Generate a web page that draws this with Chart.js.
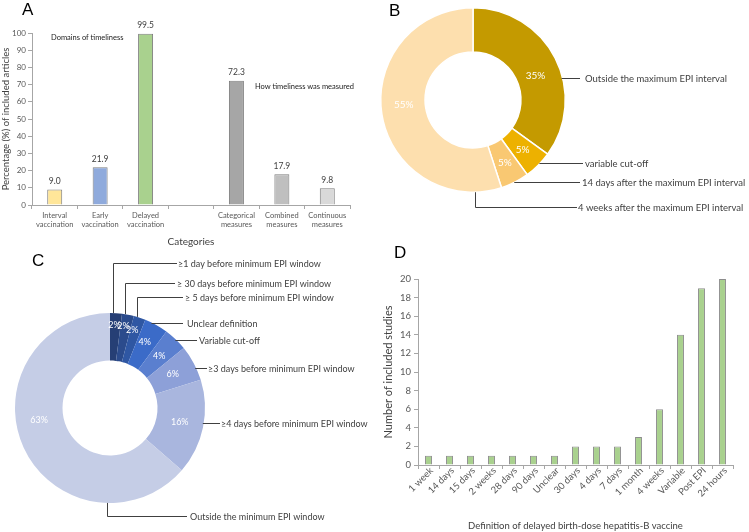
<!DOCTYPE html>
<html>
<head>
<meta charset="utf-8">
<script src="https://cdn.jsdelivr.net/npm/chart.js@4.4.0/dist/chart.umd.min.js"></script>
<style>
body { margin:0; background:#fff; width:749px; height:532px; position:relative; overflow:hidden; font-family: Lato, "Noto Sans", sans-serif; }
canvas { position:absolute; }
.letter { position:absolute; font-family: Arial, "Liberation Sans", sans-serif; font-size:17px; color:#000; }
.note { position:absolute; font-size:7.5px; color:#222; white-space:nowrap; }
</style>
</head>
<body>
<canvas id="chartA" width="375" height="250" style="left:0;top:0"></canvas>
<canvas id="chartB" width="374" height="250" style="left:375px;top:0"></canvas>
<canvas id="chartC" width="375" height="282" style="left:0;top:250px"></canvas>
<canvas id="chartD" width="374" height="282" style="left:375px;top:250px"></canvas>

<div class="letter" style="left:22px;top:0px">A</div>
<div class="letter" style="left:389px;top:1px">B</div>
<div class="letter" style="left:32px;top:251px">C</div>
<div class="letter" style="left:394px;top:243px">D</div>
<div class="note" style="left:51px;top:33px">Domains of timeliness</div>
<div class="note" style="left:255px;top:82px">How timeliness was measured</div>

<script>
// --- Panel A data ---
const categoriesA = [["Interval", "vaccination"], ["Early", "vaccination"], ["Delayed", "vaccination"], "", ["Categorical", "measures"], ["Combined", "measures"], ["Continuous", "measures"]];
const valuesA = [9.0, 21.9, 99.5, null, 72.3, 17.9, 9.8];
const colorsA = ['#FFE699', '#8FAADC', '#A9D18E', '#ffffff', '#A6A6A6', '#BFBFBF', '#D9D9D9'];

// --- Panel B data ---
const labelsB = ["Outside the maximum EPI interval", "variable cut-off", "14 days after the maximum EPI interval", "4 weeks after the maximum EPI interval"];
const valuesB = [35, 5, 5, 55];
const colorsB = ['#C49A00', '#EDB100', '#F9C872', '#FDDFAE'];

// --- Panel C data ---
const labelsC = ["\u22651 day before minimum EPI window", "\u2265 30 days before minimum EPI window", "\u2265 5 days before minimum EPI window", "Unclear definition", "Variable cut-off", "\u22653 days before minimum EPI window", "\u22654 days before minimum EPI window", "Outside the minimum EPI window"];
const valuesC = [2, 2, 2, 4, 4, 6, 16, 63];
const colorsC = ['#263F75', '#2B4B8C', '#2F57A3', '#3B6BC8', '#5A7FCF', '#8DA0D8', '#A9B6DE', '#C5CDE6'];

// --- Panel D data ---
const categoriesD = ["1 week", "14 days", "15 days", "2 weeks", "28 days", "90 days", "Unclear", "30 days", "4 days", "7 days", "1 month", "4 weeks", "Variable", "Post EPI", "24 hours"];
const valuesD = [1, 1, 1, 1, 1, 1, 1, 2, 2, 2, 3, 6, 14, 19, 20];

Chart.defaults.font.family = 'Lato, "Noto Sans", sans-serif';
Chart.defaults.color = '#595959';
Chart.defaults.animation = false;

const textGray = '#404040';
const axisGray = '#A6A6A6';

// value labels on top of bars (panel A)
const barLabels = {
    id: 'barLabels',
    afterDatasetsDraw(chart) {
        const ctx = chart.ctx;
        const meta = chart.getDatasetMeta(0);
        ctx.save();
        ctx.font = '8.5px Lato';
        ctx.fillStyle = textGray;
        ctx.textAlign = 'center';
        ctx.textBaseline = 'bottom';
        meta.data.forEach((bar, i) => {
            const v = valuesA[i];
            if (v == null) return;
            ctx.fillText(v.toFixed(1), bar.x, bar.y - 4);
        });
        ctx.restore();
    }
};

// percent labels + leader lines for the doughnuts
const leaders = {
    id: 'leaders',
    afterDatasetsDraw(chart, args, opts) {
        const ctx = chart.ctx;
        const meta = chart.getDatasetMeta(0);
        const first = meta.data[0];
        const cx = first.x, cy = first.y, r = first.outerRadius;
        const vals = chart.data.datasets[0].data;
        ctx.save();
        // percent inside slices
        ctx.font = opts.pctFont;
        ctx.fillStyle = '#ffffff';
        ctx.textAlign = 'center';
        ctx.textBaseline = 'middle';
        meta.data.forEach((arc, i) => {
            const p = arc.tooltipPosition();
            const off = (opts.pctShift && opts.pctShift[i]) || [0, 0];
            ctx.fillText(vals[i] + '%', p.x + off[0], p.y + off[1]);
        });
        // leader lines
        ctx.strokeStyle = textGray;
        ctx.lineWidth = 1;
        ctx.fillStyle = textGray;
        ctx.font = opts.font;
        ctx.textAlign = 'left';
        opts.items.forEach(it => {
            const y = Math.round(cy + it.dy) + 0.5;
            ctx.beginPath();
            if (it.elbow !== undefined) {
                const ex = Math.round(cx + it.elbow) + 0.5;
                const h = Math.sqrt(r * r - it.elbow * it.elbow);
                const sy = it.dy < 0 ? cy - h : cy + h;
                ctx.moveTo(ex, sy);
                ctx.lineTo(ex, y);
                ctx.lineTo(cx + it.lineEnd, y);
            } else {
                const sx = cx + Math.sqrt(r * r - it.dy * it.dy) - 1;
                ctx.moveTo(sx, y);
                ctx.lineTo(cx + it.lineEnd, y);
            }
            ctx.stroke();
            ctx.fillText(chart.data.labels[it.idx], cx + it.textX, y + 0.5);
        });
        ctx.restore();
    }
};

// ---- A: bar chart ----
new Chart(document.getElementById('chartA'), {
    type: 'bar',
    data: {
        labels: categoriesA,
        datasets: [{
            data: valuesA,
            backgroundColor: colorsA,
            borderColor: '#7F7F7F',
            borderWidth: 1,
            barPercentage: 0.33,
            categoryPercentage: 1
        }]
    },
    options: {
        responsive: false,
        layout: { padding: { top: 33, right: 25, left: 0, bottom: 0 } },
        plugins: { legend: { display: false }, tooltip: { enabled: false } },
        scales: {
            x: {
                afterFit(scale) { scale.height = 45; },
                grid: { drawOnChartArea: false, tickLength: 4, color: axisGray, offset: true },
                border: { color: axisGray },
                ticks: { font: { size: 7.5 }, padding: 2, maxRotation: 0, autoSkip: false },
                title: { display: true, text: 'Categories', font: { size: 10 }, color: textGray, padding: { top: 0, bottom: 2 } }
            },
            y: {
                min: 0, max: 100,
                afterFit(scale) { scale.width = 32; },
                grid: { drawOnChartArea: false, tickLength: 4, color: axisGray },
                border: { color: axisGray },
                ticks: { stepSize: 10, font: { size: 8 }, padding: 2 },
                title: { display: true, text: 'Percentage (%) of included articles', font: { size: 9.5 }, color: textGray, padding: { top: 0, bottom: 0 } }
            }
        }
    },
    plugins: [barLabels]
});

// ---- B: doughnut ----
new Chart(document.getElementById('chartB'), {
    type: 'doughnut',
    data: {
        labels: labelsB,
        datasets: [{ data: valuesB, backgroundColor: colorsB, borderColor: '#ffffff', borderWidth: 1.5 }]
    },
    options: {
        responsive: false,
        cutout: '52%',
        layout: { padding: { left: 5, right: 183, top: 7, bottom: 57 } },
        plugins: {
            legend: { display: false },
            tooltip: { enabled: false },
            leaders: {
                pctFont: '10px Lato',
                font: '9.5px Lato',
                pctShift: [[0, 8], [0, 0], [0, 0], [0, -6]],
                items: [
                    { idx: 0, dy: -22, lineEnd: 107, textX: 112 },
                    { idx: 1, dy: 63, lineEnd: 110, textX: 112 },
                    { idx: 2, dy: 82, lineEnd: 107, textX: 109 },
                    { idx: 3, elbow: 2, dy: 107, lineEnd: 104, textX: 105 }
                ]
            }
        }
    },
    plugins: [leaders]
});

// ---- C: doughnut ----
new Chart(document.getElementById('chartC'), {
    type: 'doughnut',
    data: {
        labels: labelsC,
        datasets: [{ data: valuesC, backgroundColor: colorsC, borderWidth: 0 }]
    },
    options: {
        responsive: false,
        cutout: '50%',
        layout: { padding: { left: 15, right: 170, top: 63, bottom: 29 } },
        plugins: {
            legend: { display: false },
            tooltip: { enabled: false },
            leaders: {
                pctFont: '9px Lato',
                font: '9px Lato',
                pctShift: [[0, -12], [0, -12], [0, -10], [0, -4], [0, 0], [0, 0], [0, 0], [-6, -18]],
                items: [
                    { idx: 0, elbow: 3, dy: -145, lineEnd: 67, textX: 68 },
                    { idx: 1, elbow: 15, dy: -125, lineEnd: 65, textX: 67 },
                    { idx: 2, elbow: 27, dy: -111, lineEnd: 73, textX: 75 },
                    { idx: 3, dy: -85, lineEnd: 73, textX: 77 },
                    { idx: 4, dy: -68, lineEnd: 87, textX: 89 },
                    { idx: 5, dy: -40, lineEnd: 97, textX: 98 },
                    { idx: 6, dy: 15, lineEnd: 110, textX: 111 },
                    { idx: 7, elbow: -3, dy: 108, lineEnd: 77, textX: 80 }
                ]
            }
        }
    },
    plugins: [leaders]
});

// ---- D: bar chart ----
new Chart(document.getElementById('chartD'), {
    type: 'bar',
    data: {
        labels: categoriesD,
        datasets: [{
            data: valuesD,
            backgroundColor: '#A9D18E',
            borderColor: '#8C8C8C',
            borderWidth: 1,
            barPercentage: 0.33,
            categoryPercentage: 1
        }]
    },
    options: {
        responsive: false,
        layout: { padding: { top: 29, right: 16, left: 0, bottom: 0 } },
        plugins: { legend: { display: false }, tooltip: { enabled: false } },
        scales: {
            x: {
                afterFit(scale) { scale.height = 67; },
                grid: { drawOnChartArea: false, tickLength: 4, color: axisGray, offset: true },
                border: { color: axisGray },
                ticks: { font: { size: 9.5 }, padding: -4, labelOffset: 3, minRotation: 45, maxRotation: 45, autoSkip: false },
                title: { display: true, text: 'Definition of delayed birth-dose hepatitis-B vaccine', font: { size: 9.5 }, color: textGray, padding: { top: 0, bottom: 0 } }
            },
            y: {
                min: 0, max: 20,
                afterFit(scale) { scale.width = 43; },
                grid: { drawOnChartArea: false, tickLength: 4, color: axisGray },
                border: { color: axisGray },
                ticks: { stepSize: 2, font: { size: 9.5 }, padding: 3 },
                title: { display: true, text: 'Number of included studies', font: { size: 11 }, color: textGray, padding: { top: 7, bottom: 0 } }
            }
        }
    }
});
</script>
</body>
</html>
